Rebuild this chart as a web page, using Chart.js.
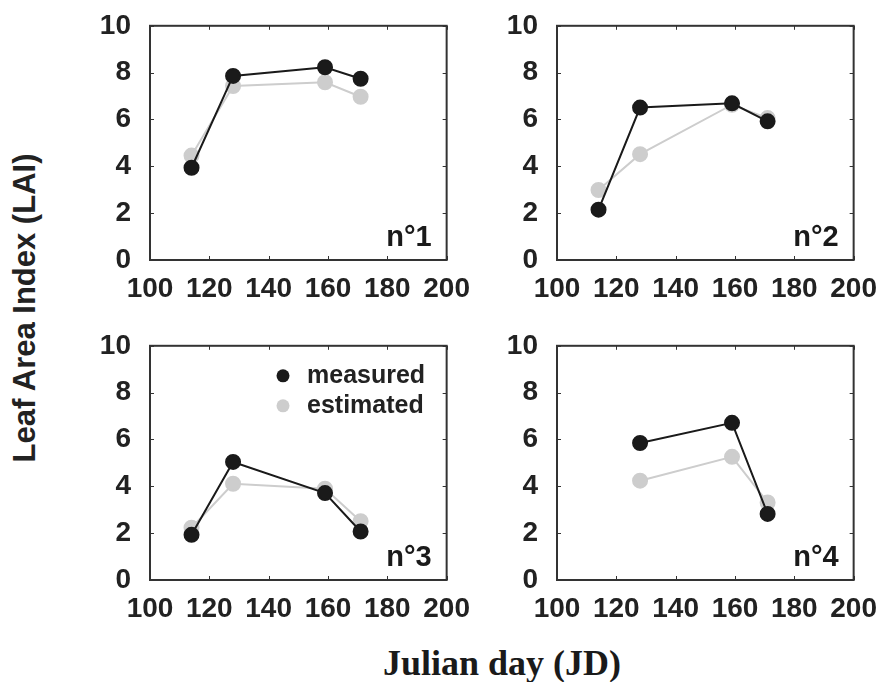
<!DOCTYPE html>
<html>
<head>
<meta charset="utf-8">
<script src="https://cdn.jsdelivr.net/npm/chart.js@4.4.1/dist/chart.umd.min.js"></script>
<style>
  body { margin: 0; background: #fff; }
  #wrap { position: relative; width: 881px; height: 682px; overflow: hidden; }
  .panel { position: absolute; width: 379px; height: 303px; }
  .ytitle { position: absolute; left: 25px; top: 308px; transform: translate(-50%, -50%) rotate(-90deg);
    font: bold 31px "Liberation Sans", Arial, sans-serif; color: #222; white-space: nowrap; }
  .xtitle { position: absolute; left: 502px; top: 645px; transform: translateX(-50%);
    font: bold 36px "Liberation Serif", "Times New Roman", serif; line-height: 36px; color: #1a1a1a; white-space: nowrap; }
</style>
</head>
<body>
<div id="wrap">
  <div class="panel" style="left:95px; top:-2px"><canvas id="c1" width="379" height="303"></canvas></div>
  <div class="panel" style="left:502px; top:-2px"><canvas id="c2" width="379" height="303"></canvas></div>
  <div class="panel" style="left:95px; top:318px"><canvas id="c3" width="379" height="303"></canvas></div>
  <div class="panel" style="left:502px; top:318px"><canvas id="c4" width="379" height="303"></canvas></div>
  <div class="ytitle">Leaf Area Index (LAI)</div>
  <div class="xtitle">Julian day (JD)</div>
</div>
<script>
// julian days of the field campaigns
var days = [114, 128, 159, 171]
var days4 = [128, 159, 171]

var measured1 = [3.94, 7.86, 8.23, 7.74]
var estimated1 = [4.46, 7.43, 7.59, 6.97]
var measured2 = [2.15, 6.51, 6.69, 5.92]
var estimated2 = [2.99, 4.52, 6.63, 6.06]
var measured3 = [1.93, 5.04, 3.71, 2.07]
var estimated3 = [2.23, 4.11, 3.90, 2.51]
var measured4 = [5.85, 6.71, 2.82]
var estimated4 = [4.24, 5.26, 3.31]

var xTicks = [100, 120, 140, 160, 180, 200]
var yTicks = [0, 2, 4, 6, 8, 10]

var BLACK = "#1a1a1a"
var GREY = "#cdcdcd"
var FONT = "'Liberation Sans', Arial, sans-serif"

function toPoints(xs, ys) {
  return xs.map((x, i) => ({ x: x, y: ys[i] }))
}

// box around the plot with small inward ticks on all sides + panel label
var framePlugin = {
  id: "frame",
  beforeDatasetsDraw(chart, args, opts) {
    var ctx = chart.ctx, a = chart.chartArea
    var x = chart.scales.x, y = chart.scales.y
    ctx.save()
    ctx.strokeStyle = "#333"
    ctx.lineWidth = 1
    ctx.beginPath()
    x.ticks.forEach(t => {
      var px = Math.round(x.getPixelForValue(t.value)) + 0.5
      ctx.moveTo(px, a.bottom); ctx.lineTo(px, a.bottom - 4)
      ctx.moveTo(px, a.top); ctx.lineTo(px, a.top + 4)
    })
    y.ticks.forEach(t => {
      var py = Math.round(y.getPixelForValue(t.value)) + 0.5
      ctx.moveTo(a.left, py); ctx.lineTo(a.left + 4, py)
      ctx.moveTo(a.right, py); ctx.lineTo(a.right - 4, py)
    })
    ctx.stroke()
    ctx.lineWidth = 2
    ctx.strokeRect(a.left, a.top, a.right - a.left, a.bottom - a.top)
    if (opts.label) {
      ctx.fillStyle = "#1a1a1a"
      ctx.font = "bold 29px " + FONT
      ctx.textAlign = "right"
      ctx.textBaseline = "alphabetic"
      ctx.fillText(opts.label, a.right - 15, a.bottom - 14)
    }
    ctx.restore()
  }
}

// legend drawn inside the plot area (only panel 3)
var innerLegend = {
  id: "innerLegend",
  afterDatasetsDraw(chart, args, opts) {
    if (!opts.show) return
    var ctx = chart.ctx, a = chart.chartArea
    ctx.save()
    ctx.font = "bold 25px " + FONT
    ctx.textAlign = "left"
    ctx.textBaseline = "alphabetic"
    chart.data.datasets.forEach((ds, i) => {
      var cy = a.top + 30 + i * 30
      ctx.fillStyle = ds.pointBackgroundColor
      ctx.beginPath()
      ctx.arc(a.left + 133, cy, 6.5, 0, Math.PI * 2)
      ctx.fill()
      ctx.fillStyle = "#222"
      ctx.fillText(ds.label, a.left + 157, cy + 7)
    })
    ctx.restore()
  }
}

function makePanel(id, xs, meas, est, label, showLegend) {
  var ctx = document.getElementById(id)
  return new Chart(ctx, {
    type: "line",
    data: {
      datasets: [
        {
          label: "measured",
          data: toPoints(xs, meas),
          borderColor: BLACK,
          backgroundColor: BLACK,
          pointBackgroundColor: BLACK,
          pointBorderColor: BLACK,
          pointRadius: 7,
          borderWidth: 2,
          tension: 0
        },
        {
          label: "estimated",
          data: toPoints(xs, est),
          borderColor: GREY,
          backgroundColor: GREY,
          pointBackgroundColor: GREY,
          pointBorderColor: GREY,
          pointRadius: 7,
          borderWidth: 2,
          tension: 0
        }
      ]
    },
    options: {
      responsive: false,
      animation: false,
      layout: { padding: { top: 3, right: 25, bottom: 0, left: 0 } },
      plugins: {
        legend: { display: false },
        tooltip: { enabled: false },
        frame: { label: label },
        innerLegend: { show: showLegend }
      },
      scales: {
        x: {
          type: "linear",
          min: 100, max: 200,
          afterBuildTicks: s => { s.ticks = xTicks.map(v => ({ value: v })) },
          afterFit: s => { s.height = 41 },
          grid: { display: false },
          border: { display: false },
          ticks: { padding: 4, autoSkip: false, maxRotation: 0, color: "#222", font: { family: FONT, size: 28, weight: "bold" } }
        },
        y: {
          min: 0, max: 10,
          afterBuildTicks: s => { s.ticks = yTicks.map(v => ({ value: v })) },
          afterFit: s => { s.width = 55 },
          grid: { display: false },
          border: { display: false },
          ticks: { padding: 11, color: "#222", font: { family: FONT, size: 28, weight: "bold" } }
        }
      }
    },
    plugins: [framePlugin, innerLegend]
  })
}

makePanel("c1", days, measured1, estimated1, "n°1", false)
makePanel("c2", days, measured2, estimated2, "n°2", false)
makePanel("c3", days, measured3, estimated3, "n°3", true)
makePanel("c4", days4, measured4, estimated4, "n°4", false)
</script>
</body>
</html>
